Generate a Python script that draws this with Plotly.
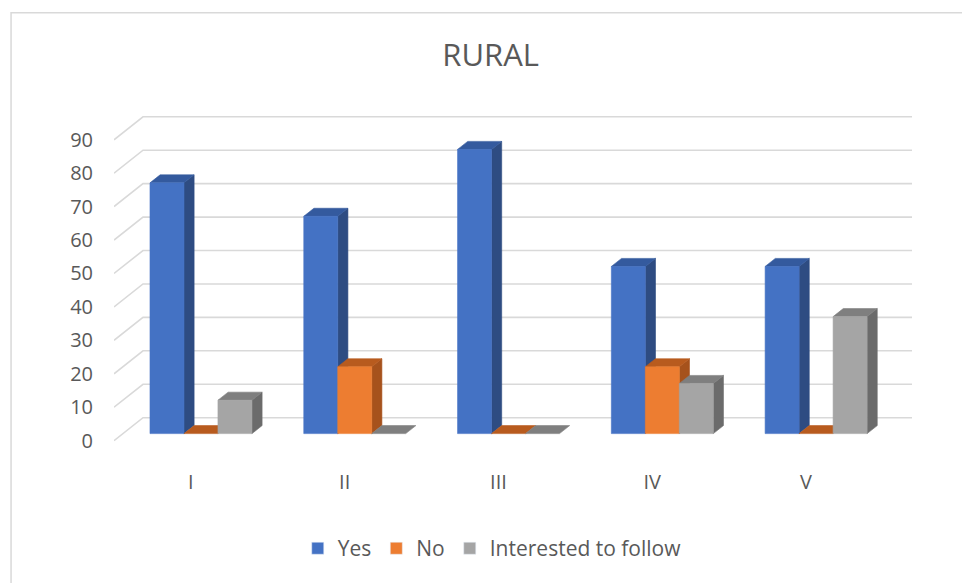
import plotly.graph_objects as go

# ---- data ----
categories = ["I", "II", "III", "IV", "V"]
series_names = ["Yes", "No", "Interested to follow"]
yes_vals = [75, 65, 85, 50, 50]
no_vals = [0, 20, 0, 20, 0]
interested_vals = [10, 0, 0, 15, 35]
y_ticks = [0, 10, 20, 30, 40, 50, 60, 70, 80, 90]

# ---- styling / geometry (pseudo-3D) ----
front_col = ["#4472C4", "#ED7D31", "#A5A5A5"]
side_col = ["#2E4C82", "#A6521C", "#6B6B6B"]
top_col = ["#345A9E", "#B85B1E", "#7F7F7F"]
DX, DY = 0.1886, 6.87          # full depth of the floor (x in categories, y in value units)
F0, F1 = 0.35, 0.70            # bar front/back depth fractions
BW = 0.221                     # bar width in category units
OFFS = [-0.266, -0.045, 0.176] # left edge of each series' bar relative to category centre
XMIN, XMAX = -0.5, 4.689
FONT = "Open Sans"
TXT = "#595959"

fig = go.Figure()

# legend-only bar traces
for name, col in zip(series_names, front_col):
    fig.add_trace(go.Bar(x=[None], y=[None], name=name, marker_color=col,
                         showlegend=True))

# gridlines on left and back wall
gx, gy = [], []
for v in y_ticks:
    gx += [XMIN, XMIN + DX, XMAX, None]
    gy += [v, v + DY, v + DY, None]
fig.add_trace(go.Scatter(x=gx, y=gy, mode="lines", line=dict(color="#D9D9D9", width=1.6),
                         hoverinfo="skip", showlegend=False))


def poly(xs, ys, color):
    fig.add_trace(go.Scatter(x=xs + [xs[0]], y=ys + [ys[0]], mode="lines", fill="toself",
                             fillcolor=color, line=dict(color=color, width=0.6),
                             hoverinfo="skip", showlegend=False))


all_vals = [yes_vals, no_vals, interested_vals]
b = DY * F0 - 0.3                       # bar base height (front face)
dxx, dyy = DX * (F1 - F0), DY * (F1 - F0)
for i in range(len(categories)):
    for s in range(3):
        v = all_vals[s][i]
        L = i + OFFS[s]
        R = L + BW
        # side face
        if v > 0:
            poly([R, R + dxx, R + dxx, R], [b, b + dyy, b + v + dyy, b + v], side_col[s])
        # top face
        poly([L, L + dxx, R + dxx, R], [b + v, b + v + dyy, b + v + dyy, b + v], top_col[s])
        # front face
        if v > 0:
            poly([L, R, R, L], [b, b, b + v, b + v], front_col[s])

fig.update_layout(
    width=962, height=583,
    margin=dict(l=114, r=50, t=113, b=139),
    paper_bgcolor="white", plot_bgcolor="white",
    title=dict(text="RURAL", x=0.510, xref="container", y=1 - 55 / 583, yref="container",
               xanchor="center", yanchor="middle",
               font=dict(family=FONT, size=31, color=TXT)),
    font=dict(family=FONT, color=TXT),
    xaxis=dict(range=[XMIN, XMAX], tickvals=list(range(len(categories))), ticktext=categories,
               showgrid=False, zeroline=False, showline=False, ticks="",
               tickfont=dict(size=20, color=TXT), ticklabelstandoff=24, fixedrange=True),
    yaxis=dict(range=[-1, 98], tickvals=y_ticks, ticktext=[str(t) for t in y_ticks],
               showgrid=False, zeroline=False, showline=False, ticks="",
               tickfont=dict(size=20, color=TXT), ticklabelstandoff=20, fixedrange=True),
    legend=dict(orientation="h", x=0.474, xanchor="center", y=-0.316, yanchor="middle",
                font=dict(size=21, color=TXT), itemwidth=30, traceorder="normal"),
    shapes=[dict(type="rect", xref="paper", yref="paper", x0=-0.129, x1=1.08, y0=-0.45, y1=1.303,
                 line=dict(color="#D9D9D9", width=1.5), fillcolor="rgba(0,0,0,0)", layer="below")],
    showlegend=True,
)

fig.write_html("out.html")
